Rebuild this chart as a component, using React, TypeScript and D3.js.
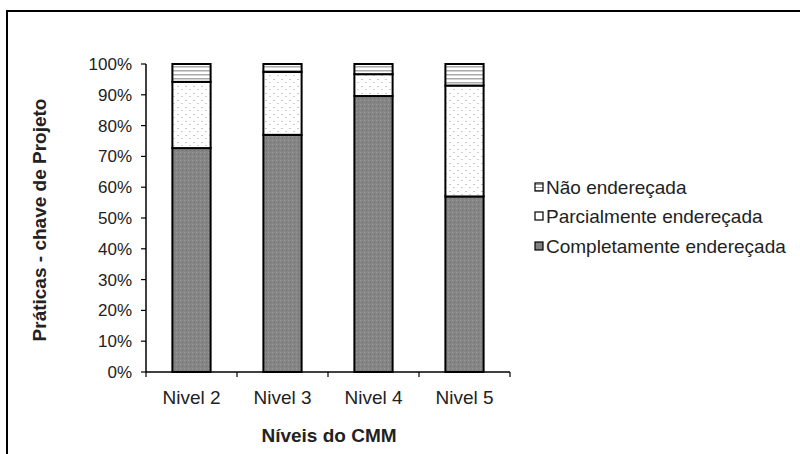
import React from "react";
import * as d3 from "d3";

const categories = ["Nivel 2", "Nivel 3", "Nivel 4", "Nivel 5"];
const completa = [72.7, 77.0, 89.6, 57.0];
const parcial = [21.5, 20.4, 7.1, 36.0];
const naoEnd = [5.8, 2.6, 3.3, 7.0];
const seriesNames = ["Completamente endereçada", "Parcialmente endereçada", "Não endereçada"];
const yTicks = [0, 10, 20, 30, 40, 50, 60, 70, 80, 90, 100];

const W = 800, H = 454;
const left = 146, right = 510, top = 64, bottom = 372;
const font = "'Liberation Sans', Arial, sans-serif";

export default function App() {
  const x = d3.scaleBand<string>().domain(categories).range([left, right]).paddingInner(0.58).paddingOuter(0.29);
  const y = d3.scaleLinear().domain([0, 100]).range([bottom, top]);
  const rows = categories.map((c, i) => ({ cat: c, c: completa[i], p: parcial[i], n: naoEnd[i] }));
  const stack = d3.stack<any>().keys(["c", "p", "n"])(rows);
  const fills = ["url(#pDark)", "url(#pDots)", "url(#pStripe)"];
  const legendOrder = [2, 1, 0];
  const legendY = [187, 216, 246];
  const legendFills = ["url(#pStripeL)", "#ffffff", "#808080"];
  const bandEdges = categories.map((c) => x(c)! - (x.step() * x.paddingInner()) / 2);
  bandEdges.push(right);

  return (
    <svg width={W} height={H} style={{ position: "absolute", left: 0, top: 0, background: "#fff" }}>
      <defs>
        <pattern id="pDark" width="4" height="4" patternUnits="userSpaceOnUse">
          <rect width="4" height="4" fill="#858585" />
          <rect x="0" y="0" width="1" height="1" fill="#9a9a9a" />
          <rect x="2" y="2" width="1" height="1" fill="#6e6e6e" />
        </pattern>
        <pattern id="pDots" width="8" height="7" patternUnits="userSpaceOnUse">
          <rect width="8" height="7" fill="#fff" />
          <rect x="1" y="2" width="2" height="1" fill="#c8c8c8" />
          <rect x="5" y="5" width="2" height="1" fill="#d0d0d0" />
        </pattern>
        <pattern id="pStripe" width="4" height="4" patternUnits="userSpaceOnUse">
          <rect width="4" height="4" fill="#fff" />
          <rect y="2" width="4" height="1.5" fill="#aaaaaa" />
        </pattern>
        <pattern id="pStripeL" width="3" height="3" patternUnits="userSpaceOnUse">
          <rect width="3" height="3" fill="#fff" />
          <rect y="1" width="3" height="1" fill="#999" />
        </pattern>
      </defs>
      <rect x={7} y={11} width={W} height={H} fill="none" stroke="#000" strokeWidth={2} />
      {stack.map((s, si) =>
        s.map((d, i) => (
          <rect
            key={si + "-" + i}
            x={x(categories[i])}
            y={y(d[1])}
            width={x.bandwidth()}
            height={y(d[0]) - y(d[1])}
            fill={fills[si]}
            stroke="#000"
            strokeWidth={2}
          />
        ))
      )}
      <line x1={left} x2={left} y1={top} y2={bottom} stroke="#000" strokeWidth={1.5} />
      <line x1={left} x2={right} y1={bottom} y2={bottom} stroke="#000" strokeWidth={1.5} />
      {yTicks.map((t) => (
        <g key={t}>
          <line x1={left - 5} x2={left} y1={y(t)} y2={y(t)} stroke="#000" strokeWidth={1.2} />
          <text x={left - 14} y={y(t)} dy="0.35em" textAnchor="end" fontFamily={font} fontSize={17} fill="#222">
            {t + "%"}
          </text>
        </g>
      ))}
      {bandEdges.map((e, i) => (
        <line key={i} x1={e} x2={e} y1={bottom} y2={bottom + 5} stroke="#000" strokeWidth={1.2} />
      ))}
      {categories.map((c) => (
        <text key={c} x={x(c)! + x.bandwidth() / 2} y={404} textAnchor="middle" fontFamily={font} fontSize={19} fill="#222">
          {c}
        </text>
      ))}
      <text x={329} y={442} textAnchor="middle" fontFamily={font} fontSize={19} fontWeight="bold" fill="#222">
        Níveis do CMM
      </text>
      <text
        transform={`translate(46,220) rotate(-90)`}
        textAnchor="middle"
        fontFamily={font}
        fontSize={19}
        fontWeight="bold"
        fill="#222"
      >
        Práticas - chave de Projeto
      </text>
      {legendOrder.map((si, k) => (
        <g key={si}>
          <rect x={535} y={legendY[k] - 4} width={8} height={8} fill={legendFills[k]} stroke="#000" strokeWidth={1.2} />
          <text x={546} y={legendY[k]} dy="0.35em" fontFamily={font} fontSize={19} fill="#222">
            {seriesNames[si]}
          </text>
        </g>
      ))}
    </svg>
  );
}
